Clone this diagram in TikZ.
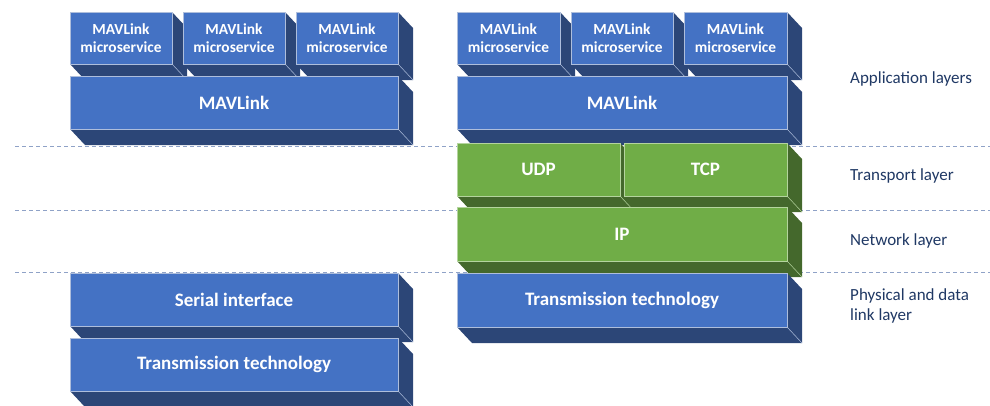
\documentclass[tikz,border=0pt]{standalone}
\usepackage{fontspec}
\setmainfont{Carlito}
\definecolor{bfront}{HTML}{4472C4}
\definecolor{bside}{HTML}{2C4677}
\definecolor{bedge}{HTML}{AEBEDC}
\definecolor{gfront}{HTML}{70AD47}
\definecolor{gside}{HTML}{44682C}
\definecolor{gedge}{HTML}{B4D49E}
\definecolor{lblcol}{HTML}{1F3864}
\definecolor{sepcol}{HTML}{8FA2C7}
\newcommand\slab[8]{%
  \fill[#6side] (#4,#3) -- (#4+15,#3+16) -- (#4+15,#5+16) -- (#2+15,#5+16) -- (#2,#5) -- (#4,#5) -- cycle;
  \draw[#6edge, line width=0.5pt] (#4,#5) -- (#4+15,#5+16);
  \node[frontface, draw=#6edge, fill=#6front, minimum width={#4-#2}, minimum height={#5-#3}, #7] (#1) at (#2,#3) {#8};
}
\begin{document}
\begin{tikzpicture}[x=1pt, y=-1pt,
  frontface/.style={line width=0.6pt, inner sep=0pt, outer sep=0pt, anchor=north west, text=white, align=center},
  bigtext/.style={font=\bfseries\fontsize{19}{22}\selectfont},
  smalltext/.style={font=\bfseries\fontsize{15.4}{18.3}\selectfont},
  layerlabel/.style={text=lblcol, font=\fontsize{17}{20}\selectfont, anchor=base west, inner sep=0pt, align=left},
  separator/.style={draw=sepcol, line width=1pt, dash pattern=on 4pt off 3pt}]
\useasboundingbox (0,0) rectangle (990,405);
\clip (0,0) rectangle (990,405);
% separators
\coordinate (s1a) at (15,146); \coordinate (s1b) at (990,146);
\coordinate (s2a) at (15,210); \coordinate (s2b) at (990,210);
\coordinate (s3a) at (15,272); \coordinate (s3b) at (990,272);
\draw[separator] (s1a) -- (s1b);
\draw[separator] (s2a) -- (s2b);
\draw[separator] (s3a) -- (s3b);
% left stack
\slab{lm1}{70}{12}{172}{64}{b}{smalltext}{MAVLink\\microservice}
\slab{lm2}{183}{12}{285}{64}{b}{smalltext}{MAVLink\\microservice}
\slab{lm3}{296}{12}{398}{64}{b}{smalltext}{MAVLink\\microservice}
\slab{lmav}{70}{76}{398}{129}{b}{bigtext}{MAVLink}
\slab{lser}{70}{273}{398}{326}{b}{bigtext}{Serial interface}
\slab{ltx}{70}{338}{398}{391}{b}{bigtext}{Transmission technology}
% right stack
\slab{rm1}{457}{12}{560}{64}{b}{smalltext}{MAVLink\\microservice}
\slab{rm2}{571}{12}{673}{64}{b}{smalltext}{MAVLink\\microservice}
\slab{rm3}{684}{12}{787}{64}{b}{smalltext}{MAVLink\\microservice}
\slab{rmav}{457}{76}{787}{129}{b}{bigtext}{MAVLink}
\slab{udp}{457}{143}{620}{196}{g}{bigtext}{UDP}
\slab{tcp}{624}{143}{787}{196}{g}{bigtext}{TCP}
\slab{ip}{457}{207}{787}{261}{g}{bigtext}{IP}
\slab{rtx}{457}{273}{787}{327}{b}{bigtext}{Transmission technology}
% labels
\node[layerlabel] (lapp) at (850,83) {Application layers};
\node[layerlabel] (ltra) at (850,180.5) {Transport layer};
\node[layerlabel] (lnet) at (850,245.5) {Network layer};
\node[layerlabel] (lphy) at (850,320.5) {Physical and data\\link layer};
\end{tikzpicture}
\end{document}
